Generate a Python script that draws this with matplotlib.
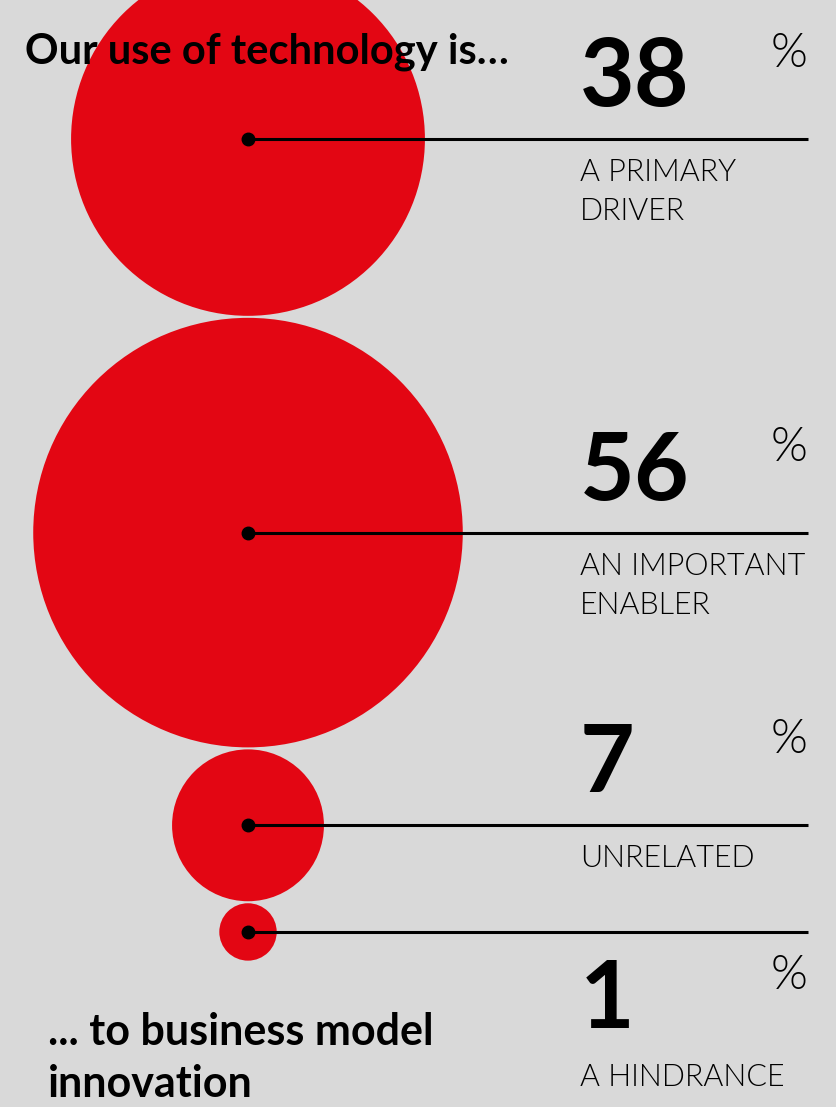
import numpy as np
import matplotlib.pyplot as plt
from matplotlib.patches import Circle

# data
values = [38, 56, 7, 1]
labels = ["A PRIMARY\nDRIVER", "AN IMPORTANT\nENABLER", "UNRELATED", "A HINDRANCE"]
title_top = "Our use of technology is\u2026"
title_bottom = "... to business model\ninnovation"

RED = "#e30613"
BG = "#d9d9d9"
FONT = "Lato"

W, H = 837, 1107
fig = plt.figure(figsize=(W / 100, H / 100), dpi=100)
fig.patch.set_facecolor(BG)
ax = fig.add_axes([0, 0, 1, 1])
ax.set_xlim(0, W)
ax.set_ylim(H, 0)
ax.set_aspect("equal")
ax.axis("off")

# circle area ~ value, stacked top to bottom
k = 28.7
radii = k * np.sqrt(values)
cx = 248
gap = 2
centers = []
y = -38
for r in radii:
    centers.append(y + r)
    y += 2 * r + gap

x_num = 580
x_end = 808
for i, (v, lab, r, cy) in enumerate(zip(values, labels, radii, centers)):
    ax.add_patch(Circle((cx, cy), r, color=RED, zorder=1, lw=0))
    ax.plot([cx, x_end], [cy, cy], color="black", lw=2.2, zorder=3,
            solid_capstyle="butt")
    ax.plot(cx, cy, "o", color="black", ms=9, zorder=4)

    last = i == len(values) - 1
    base = cy + 96 if last else cy - 33
    ax.text(x_num, base, str(v), fontsize=68, fontweight="bold",
            family=FONT, ha="left", va="baseline", zorder=5)
    ax.text(x_end, base - 73, "%", fontsize=34, fontweight=300,
            family=FONT, ha="right", va="top", zorder=5)
    if not last:
        ax.text(x_num, cy + 19, lab, fontsize=22, fontweight=300,
                family=FONT, ha="left", va="top", linespacing=1.45, zorder=5)
    else:
        ax.text(x_num, base + 58, lab, fontsize=22, fontweight=300,
                family=FONT, ha="left", va="baseline", zorder=5)

ax.text(25, 63, title_top, fontsize=30, fontweight="bold", family=FONT,
        ha="left", va="baseline", zorder=5)
ax.text(48, 1097, title_bottom, fontsize=31, fontweight="bold", family=FONT,
        ha="left", va="baseline", linespacing=1.37, zorder=5)

fig.savefig("out.png", dpi=100, facecolor=BG)
